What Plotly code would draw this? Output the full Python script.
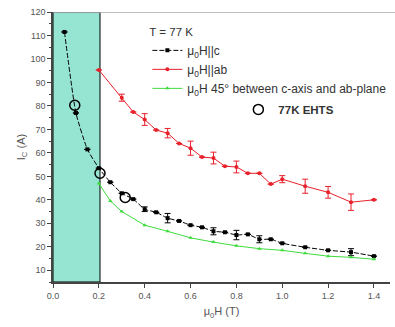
import plotly.graph_objects as go

# ---- data ----
x_c = [0.05, 0.1, 0.15, 0.2, 0.25, 0.3, 0.35, 0.4, 0.45, 0.5, 0.55, 0.6, 0.65, 0.7,
       0.75, 0.8, 0.85, 0.9, 0.95, 1.0, 1.1, 1.2, 1.3, 1.4]
y_c = [111.5, 77, 61.5, 53.5, 47.5, 42.8, 40.3, 36, 34.7, 32.2, 31, 29.2, 28.3, 26.6,
       26.2, 25, 25.3, 23.2, 23.2, 21.5, 19.8, 18.5, 17.7, 16]
e_c = [0, 0, 0, 0, 0, 0, 0, 1, 0, 2, 0, 0, 0, 1.5, 0, 2, 0, 1.5, 0, 0, 0, 0, 1.5, 0]

x_ab = [0.2, 0.3, 0.35, 0.4, 0.45, 0.5, 0.55, 0.6, 0.65, 0.7, 0.75, 0.8, 0.85, 0.9,
        0.95, 1.0, 1.1, 1.2, 1.3, 1.4]
y_ab = [95.3, 83.5, 77.4, 74.2, 69.7, 68.4, 64, 62, 58.2, 57.8, 54.3, 54, 51.3, 51.3,
        46.7, 48.8, 45.8, 43.2, 39, 40]
e_ab = [0, 1.5, 0, 2.5, 0, 2, 0, 3, 0, 2.5, 0, 2.5, 0, 0, 0, 1.5, 3, 2.5, 3.5, 0]

x_45 = [0.2, 0.25, 0.3, 0.4, 0.5, 0.6, 0.7, 0.8, 0.9, 1.0, 1.1, 1.2, 1.3, 1.4]
y_45 = [47, 39.5, 35, 29.2, 26.6, 23.8, 22, 20.4, 19.2, 18.5, 17.2, 16, 15.5, 14.7]

x_ehts = [0.095, 0.205, 0.315]
y_ehts = [80.3, 51.3, 41]

x_tick = [0.0, 0.2, 0.4, 0.6, 0.8, 1.0, 1.2, 1.4]
y_tick = [10, 20, 30, 40, 50, 60, 70, 80, 90, 100, 110, 120]
shade_x = [0.0, 0.205]
x_range = [0, 1.47]
y_range = [5, 120]

RED = "#e8202a"
GREEN = "#3ddc3d"
GRAY = "#555555"

fig = go.Figure()

fig.add_trace(go.Scatter(
    x=x_c, y=y_c, mode="lines+markers", name="μ<sub>0</sub>H||c",
    line=dict(color="black", width=1, dash="5px,2px", shape="spline", smoothing=0.5),
    marker=dict(symbol="square", size=4, color="black"),
    error_y=dict(type="data", array=e_c, visible=True, color="black", thickness=1, width=3),
    legend="legend",
))
fig.add_trace(go.Scatter(
    x=x_ab, y=y_ab, mode="lines+markers", name="μ<sub>0</sub>H||ab",
    line=dict(color=RED, width=1),
    marker=dict(symbol="circle", size=4, color=RED),
    error_y=dict(type="data", array=e_ab, visible=True, color=RED, thickness=1, width=3),
    legend="legend",
))
fig.add_trace(go.Scatter(
    x=x_45, y=y_45, mode="lines+markers",
    name="μ<sub>0</sub>H 45° between c-axis and ab-plane",
    line=dict(color=GREEN, width=1),
    marker=dict(symbol="triangle-up", size=4, color=GREEN),
    legend="legend",
))
fig.add_trace(go.Scatter(
    x=x_ehts, y=y_ehts, mode="markers", name="<b>77K EHTS</b>",
    marker=dict(symbol="circle-open", size=10, color="black", line=dict(width=1.5)),
    legend="legend2",
))

fig.add_shape(type="rect", xref="x", yref="y", x0=shade_x[0], x1=shade_x[1],
              y0=y_range[0], y1=y_range[1], fillcolor="rgb(150,228,210)",
              line=dict(color="black", width=1), layer="below")
fig.add_shape(type="line", xref="paper", yref="y", x0=0, x1=1.02,
              y0=y_range[1], y1=y_range[1], line=dict(color="#aaaaaa", width=1.5))

fig.update_layout(
    width=395, height=327,
    margin=dict(l=53, r=5, t=12, b=45, autoexpand=False),
    plot_bgcolor="white", paper_bgcolor="white",
    font=dict(family="Liberation Sans, Arial, sans-serif", color=GRAY, size=9),
    xaxis=dict(range=x_range, tickvals=x_tick, ticktext=[f"{v:.1f}" for v in x_tick],
               showgrid=False, zeroline=False, showline=True, linecolor="#444",
               linewidth=1.5, ticks="outside", ticklen=4, tickcolor="#444",
               title=dict(text="μ<sub>0</sub>H (T)", font=dict(size=11, color=GRAY),
                          standoff=8)),
    yaxis=dict(range=y_range, tickvals=y_tick, showgrid=False, zeroline=False,
               showline=True, linecolor="#444", linewidth=1.5, ticks="outside",
               ticklen=4, tickcolor="#444",
               minor=dict(tickvals=[v - 5 for v in y_tick], ticks="outside",
                          ticklen=2, tickcolor="#444"),
               title=dict(text="I<sub>C</sub> (A)", font=dict(size=11, color=GRAY),
                          standoff=3)),
    legend=dict(x=0.28, y=0.967, xanchor="left", yanchor="top",
                bgcolor="rgba(0,0,0,0)",
                font=dict(size=12, color="#333"),
                title=dict(text="T = 77 K", font=dict(size=11.5, color="#333")),
                tracegroupgap=0),
    legend2=dict(x=0.55, y=0.693, xanchor="left", yanchor="top",
                 bgcolor="rgba(0,0,0,0)", font=dict(size=11.5, color="#333")),
    showlegend=True,
)

fig.write_html("out.html")
